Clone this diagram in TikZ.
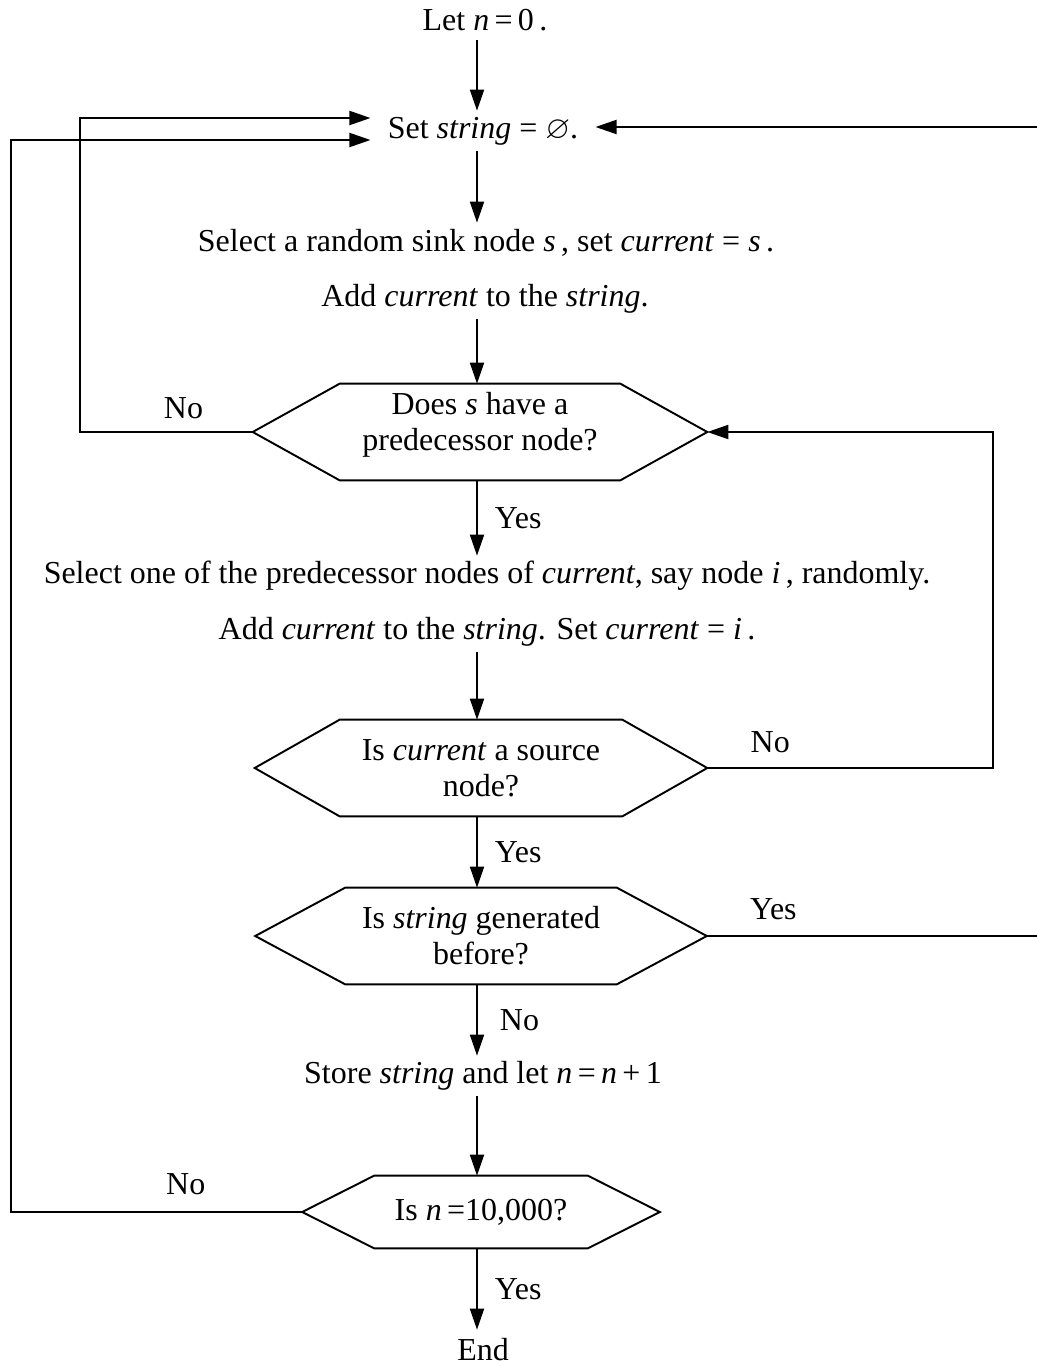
\documentclass[tikz,border=0pt]{standalone}
\usepackage{amssymb}
\usepackage{fontspec}
\setmainfont{Liberation Serif}
\usetikzlibrary{arrows.meta, positioning}

\tikzstyle{txt} = [rectangle, inner xsep=0.34cm, inner ysep=0pt, minimum height=0.8cm, text centered]
\tikzstyle{decision} = [rectangle, inner sep=0pt, align=center, minimum height=1.92cm]
\tikzstyle{line} = [line width=1.1pt]
\tikzstyle{arrow} = [line width=1.1pt, -{Triangle[length=0.42cm, width=0.28cm]}]
\tikzstyle{lbl} = [inner sep=0pt]

% hexagon outline round a decision node: #1 node, #2 depth of the points
\newcommand{\hexout}[2]{\draw [line] (#1.west) -- ([xshift=#2]#1.north west) -- ([xshift=-#2]#1.north east) -- (#1.east) -- ([xshift=-#2]#1.south east) -- ([xshift=#2]#1.south west) -- cycle;}

\begin{document}
\begin{tikzpicture}[x=0.02cm, y=-0.02cm, font=\fontsize{18.2}{20.5}\selectfont]
\useasboundingbox (0,0) rectangle (1037,1366);

% Nodes
\coordinate (axis) at (477,0);
\node (start) [txt] at (485,20) {Let \textit{n}\,=\,0\,.};
\node (setstr) [txt] at (483,131) {Set \textit{string} = $\varnothing$.};
\node (selsink) [txt] at (486,243) {Select a random sink node \textit{s}\,, set \textit{current} = \textit{s}\,.};
\node (addcur) [txt] at (485,299) {Add \textit{current} to the \textit{string}.};
\node (q1) [decision, minimum width=9.08cm] at (480,432) {Does \textit{s} have a\\predecessor node?\\[-0.3cm]};
\node (selpred) [txt] at (487,576) {Select one of the predecessor nodes of \textit{current}, say node \textit{i}\,, randomly.};
\node (addset) [txt] at (487,632) {Add \textit{current} to the \textit{string}. Set \textit{current} = \textit{i}\,.};
\node (q2) [decision, minimum width=9.04cm] at (481,768) {Is \textit{current} a source\\node?};
\node (q3) [decision, minimum width=9.02cm] at (481,936) {Is \textit{string} generated\\before?};
\node (store) [txt] at (483,1076) {Store \textit{string} and let \textit{n}\,=\,\textit{n}\,+\,1};
\node (q4) [decision, minimum width=7.14cm, minimum height=1.44cm] at (481,1212) {Is \textit{n}\,=10,000?};
\node (stop) [txt] at (483,1350) {End};

\hexout{q1}{1.74cm}
\hexout{q2}{1.7cm}
\hexout{q3}{1.8cm}
\hexout{q4}{1.44cm}

% Arrows
\draw [arrow] (start.south -| axis) -- (setstr.north -| axis);
\draw [arrow] (setstr.south -| axis) -- (selsink.north -| axis);
\draw [arrow] (addcur.south -| axis) -- (q1.north -| axis);
\draw [arrow] (q1.south -| axis) -- node[lbl, right=0.34cm] {Yes} (selpred.north -| axis);
\draw [arrow] (addset.south -| axis) -- (q2.north -| axis);
\draw [arrow] (q2.south -| axis) -- node[lbl, right=0.34cm] {Yes} (q3.north -| axis);
\draw [arrow] (q3.south -| axis) -- node[lbl, right=0.44cm] {No} (store.north -| axis);
\draw [arrow] (store.south -| axis) -- (q4.north -| axis);
\draw [arrow] (q4.south -| axis) -- node[lbl, right=0.34cm] {Yes} (stop.north -| axis);

\draw [arrow] (q1.west) -- node[lbl, above=0.24cm, pos=0.4] {No} ++(-173,0) |- ([yshift=0.26cm]setstr.west);
\draw [arrow] (q4.west) -- node[lbl, above=0.32cm, pos=0.4] {No} ++(-291,0) |- ([yshift=-0.18cm]setstr.west);
\draw [arrow] (q2.east) -- node[lbl, above=0.28cm, pos=0.22] {No} ++(286,0) |- (q1.east);
\draw [arrow] (q3.east) -- node[lbl, above=0.3cm, pos=0.2] {Yes} ++(333,0) |- ([yshift=0.08cm]setstr.east);

\end{tikzpicture}
\end{document}
